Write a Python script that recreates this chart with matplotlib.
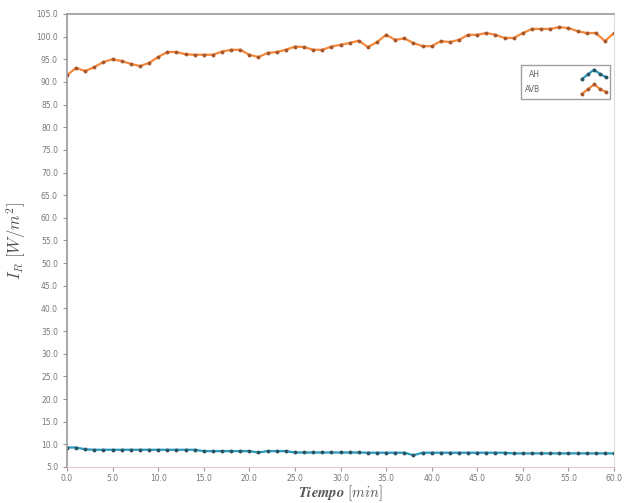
import numpy as np
import matplotlib
matplotlib.use("Agg")
import matplotlib.pyplot as plt
from matplotlib.legend_handler import HandlerLine2D
from matplotlib.lines import Line2D

plt.rcParams['mathtext.fontset'] = 'cm'

tiempo = list(range(0, 61))
avb = [91.5, 93.1, 92.4, 93.3, 94.4, 95.0, 94.6, 94.0, 93.5, 94.2,
       95.5, 96.6, 96.6, 96.1, 96.0, 96.0, 96.0, 96.7, 97.1, 97.1,
       96.0, 95.5, 96.4, 96.6, 97.1, 97.8, 97.7, 97.1, 97.1, 97.8,
       98.2, 98.6, 99.1, 97.7, 98.8, 100.4, 99.3, 99.6, 98.6, 97.9,
       97.9, 99.0, 98.8, 99.3, 100.4, 100.4, 100.8, 100.4, 99.7, 99.7,
       100.8, 101.7, 101.7, 101.7, 102.1, 101.9, 101.2, 100.8, 100.8, 99.0,
       100.8]
ah = [9.3, 9.3, 8.9, 8.8, 8.8, 8.8, 8.8, 8.8, 8.8, 8.8,
      8.8, 8.8, 8.8, 8.8, 8.8, 8.5, 8.5, 8.5, 8.5, 8.5,
      8.5, 8.2, 8.5, 8.5, 8.5, 8.2, 8.2, 8.2, 8.2, 8.2,
      8.2, 8.2, 8.2, 8.15, 8.15, 8.15, 8.15, 8.15, 7.6, 8.15,
      8.15, 8.15, 8.15, 8.15, 8.15, 8.15, 8.15, 8.15, 8.15, 8.0,
      8.0, 8.0, 8.0, 8.0, 8.0, 8.0, 8.0, 8.0, 8.0, 8.0,
      8.0]
labels = ["AH", "AVB"]
xticks = np.arange(0, 60.1, 5)
yticks = np.arange(5, 105.1, 5)


class ZigZagHandler(HandlerLine2D):
    def create_artists(self, legend, orig_handle, xdescent, ydescent,
                       width, height, fontsize, trans):
        xs = np.linspace(-xdescent, width - xdescent, 5)
        ys = np.array([0.15, 0.55, 0.95, 0.55, 0.3]) * height - ydescent
        line = Line2D(xs, ys, color=orig_handle.get_color(),
                      lw=orig_handle.get_linewidth(),
                      marker=orig_handle.get_marker(),
                      markersize=orig_handle.get_markersize(),
                      markerfacecolor=orig_handle.get_markerfacecolor(),
                      markeredgecolor=orig_handle.get_markeredgecolor())
        line.set_transform(trans)
        return [line]


fig = plt.figure(figsize=(6.24, 5.03), dpi=100)
ax = fig.add_axes([0.1074, 0.0716, 0.8766, 0.9006])

l1, = ax.plot(tiempo, ah, color='#2a9bc0', lw=1.6, marker='o', markersize=1.8,
              markerfacecolor='#2d5260', markeredgecolor='#2d5260', label=labels[0])
l2, = ax.plot(tiempo, avb, color='#f7883a', lw=1.6, marker='o', markersize=1.8,
              markerfacecolor='#a8582e', markeredgecolor='#a8582e', label=labels[1])

ax.set_xlim(0, 60)
ax.set_ylim(5, 105)
ax.set_xticks(xticks)
ax.set_xticklabels([f"{v:.1f}" for v in xticks])
ax.set_yticks(yticks)
ax.set_yticklabels([f"{v:.1f}" for v in yticks])
ax.tick_params(axis='both', labelsize=5.5, labelcolor='#777777', color='#999999',
               length=3, width=0.8, direction='out')
ax.tick_params(axis='x', pad=2)

for s in ['left', 'top']:
    ax.spines[s].set_color('#999999')
    ax.spines[s].set_linewidth(1.2)
ax.spines['right'].set_color('#dddddd')
ax.spines['bottom'].set_color('#e6c8c8')

ax.set_xlabel(r"$\mathbfit{Tiempo}\ [min]$", fontsize=10.5, color='#555555')
ax.xaxis.set_label_coords(0.5, -0.057)
ax.xaxis.label.set_verticalalignment('center')
ax.set_ylabel(r"$I_R\ [W/m^2]$", fontsize=12, color='#555555', labelpad=6)

leg = ax.legend(handles=[l1, l2], loc='upper right', bbox_to_anchor=(0.993, 0.887),
                markerfirst=False, fontsize=5.5, frameon=True, fancybox=False,
                edgecolor='#888888', handlelength=3.2, handleheight=2.0,
                labelspacing=0.4, borderpad=0.5, handletextpad=5.5,
                borderaxespad=0.0,
                handler_map={Line2D: ZigZagHandler()})
for t in leg.get_texts():
    t.set_color('#666666')

fig.savefig("out.png", dpi=100)
